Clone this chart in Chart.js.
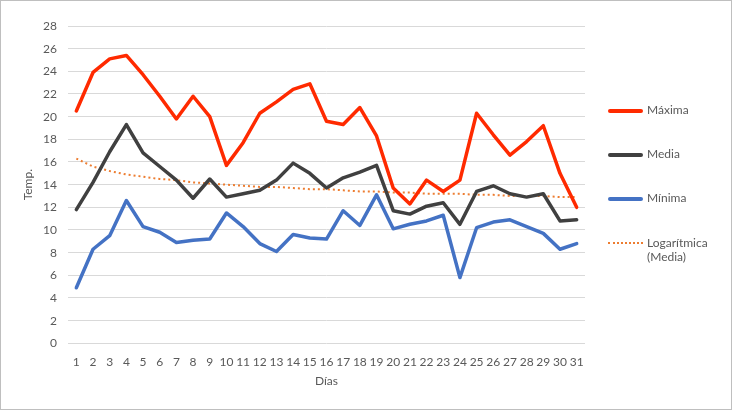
<!DOCTYPE html>
<html>
<head>
<meta charset="utf-8">
<script src="https://cdn.jsdelivr.net/npm/chart.js@4.4.1/dist/chart.umd.min.js"></script>
<style>
  html, body { margin: 0; padding: 0; background: #fff; }
  #wrap { position: relative; width: 732px; height: 410px; }
  #wrap canvas { position: absolute; left: 0; top: 0; }
  #frame { position: absolute; left: 0; top: 0; width: 730px; height: 408px; border: 1px solid #bfbfbf; pointer-events: none; }
  .leg { position: absolute; left: 608px; font-family: Lato, "Open Sans", sans-serif; font-size: 12px; color: #595959; line-height: 14px; }
  .leg .sw { position: absolute; left: 0; width: 35px; top: 6px; }
  .leg .tx { position: absolute; left: 39px; top: 0; white-space: nowrap; }
</style>
</head>
<body>
<div id="wrap">
  <canvas id="myChart" width="732" height="410"></canvas>
  <div id="legend"></div>
  <div id="frame"></div>
</div>
<script>
const dias = ["1","2","3","4","5","6","7","8","9","10","11","12","13","14","15","16","17","18","19","20","21","22","23","24","25","26","27","28","29","30","31"];
const maxima = [20.5, 23.9, 25.1, 25.4, 23.7, 21.8, 19.8, 21.8, 20.0, 15.7, 17.7, 20.3, 21.3, 22.4, 22.9, 19.6, 19.3, 20.8, 18.3, 13.7, 12.3, 14.4, 13.4, 14.4, 20.3, 18.4, 16.6, 17.8, 19.2, 15.0, 12.0];
const media = [11.8, 14.2, 16.9, 19.3, 16.8, 15.6, 14.4, 12.8, 14.5, 12.9, 13.2, 13.5, 14.4, 15.9, 15.0, 13.7, 14.6, 15.1, 15.7, 11.7, 11.4, 12.1, 12.4, 10.5, 13.4, 13.9, 13.2, 12.9, 13.2, 10.8, 10.9];
const minima = [4.9, 8.3, 9.5, 12.6, 10.3, 9.8, 8.9, 9.1, 9.2, 11.5, 10.3, 8.8, 8.1, 9.6, 9.3, 9.2, 11.7, 10.4, 13.1, 10.1, 10.5, 10.8, 11.3, 5.8, 10.2, 10.7, 10.9, 10.3, 9.7, 8.3, 8.8];
const tendencia = [16.3, 15.6, 15.2, 14.9, 14.7, 14.5, 14.4, 14.2, 14.1, 14.0, 13.9, 13.8, 13.8, 13.7, 13.6, 13.6, 13.5, 13.4, 13.4, 13.3, 13.3, 13.2, 13.2, 13.2, 13.1, 13.1, 13.0, 13.0, 13.0, 12.9, 12.9];

const FONT = "Lato, 'Open Sans', sans-serif";
const GREY_TEXT = "#595959";

const series = [
  { label: "Máxima", data: maxima, color: "#ff2a00", width: 3.5, dash: [] },
  { label: "Media", data: media, color: "#404040", width: 3.5, dash: [] },
  { label: "Mínima", data: minima, color: "#4472c4", width: 3.5, dash: [] },
  { label: "Logarítmica\n(Media)", data: tendencia, color: "#ed7d31", width: 2, dash: [2, 3] },
];

function mountLegend() {
  const parent = document.getElementById("legend");
  const tops = [103, 147, 191, 236];
  series.forEach((s, i) => {
    const item = document.createElement("div");
    item.className = "leg";
    item.style.top = tops[i] + "px";
    const sw = document.createElement("div");
    sw.className = "sw";
    if (s.dash.length) {
      sw.style.borderTop = s.width + "px dotted " + s.color;
    } else {
      sw.style.height = s.width + "px";
      sw.style.background = s.color;
      sw.style.borderRadius = "2px";
    }
    const tx = document.createElement("div");
    tx.className = "tx";
    tx.innerHTML = s.label.replace("\n", "<br>");
    item.appendChild(sw);
    item.appendChild(tx);
    parent.appendChild(item);
  });
}

function mountChart() {
  const ctx = document.getElementById("myChart");
  new Chart(ctx, {
    type: "line",
    data: {
      labels: dias,
      datasets: series.map((s) => ({
        label: s.label,
        data: s.data,
        borderColor: s.color,
        backgroundColor: s.color,
        borderWidth: s.width,
        borderDash: s.dash,
        borderJoinStyle: "round",
        borderCapStyle: s.dash.length ? "butt" : "round",
        pointRadius: 0,
        tension: 0,
        fill: false,
      })),
    },
    options: {
      responsive: false,
      animation: false,
      layout: { padding: { left: 0, top: 26, right: 147, bottom: 22 } },
      plugins: {
        legend: { display: false },
        tooltip: { enabled: false },
      },
      scales: {
        x: {
          offset: true,
          afterFit: (s) => { s.height = 44.7; },
          grid: { display: false, drawTicks: false },
          border: { display: false },
          ticks: { color: GREY_TEXT, font: { family: FONT, size: 12 }, padding: 12, maxRotation: 0, autoSkip: false },
          title: { display: true, text: "Días", color: GREY_TEXT, font: { family: FONT, size: 12 }, padding: { top: 5, bottom: 0 } },
        },
        y: {
          min: 0,
          max: 28,
          afterFit: (s) => { s.width = 68; },
          grid: { color: "#d9d9d9", lineWidth: 1, drawTicks: false },
          border: { display: false },
          ticks: { stepSize: 2, color: GREY_TEXT, font: { family: FONT, size: 12 }, padding: 11 },
          title: { display: true, text: "Temp.", color: GREY_TEXT, font: { family: FONT, size: 12 }, padding: { top: 21, bottom: 8 } },
        },
      },
    },
  });
}

mountChart();
mountLegend();
</script>
</body>
</html>
